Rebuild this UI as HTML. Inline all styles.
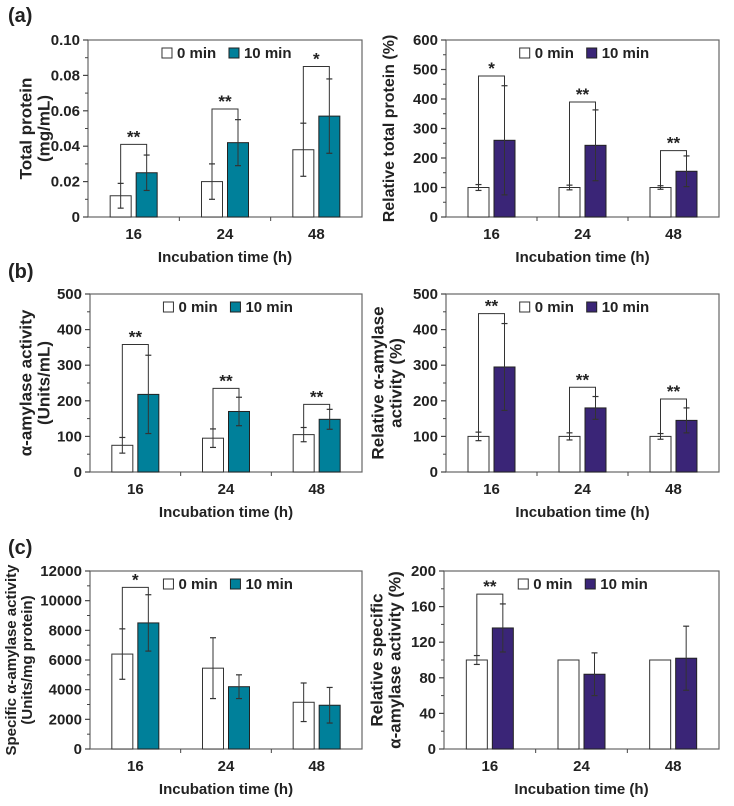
<!DOCTYPE html>
<html><head><meta charset="utf-8"><style>
body{margin:0;background:#fff;}
svg text{font-family:"Liberation Sans",Arial,sans-serif;font-weight:bold;fill:#222;}
</style></head><body>
<svg id="fig" width="734" height="801" viewBox="0 0 734 801" xmlns="http://www.w3.org/2000/svg"></svg>
<script>
const categories = ["16","24","48"];
// panel a-left
const aL_v0 = [0.012,0.020,0.038], aL_e0=[0.007,0.010,0.015];
const aL_v1 = [0.025,0.042,0.057], aL_e1=[0.010,0.013,0.021];
const aL_br = [0.041,0.061,0.085], aL_sig=["**","**","*"];
const aL_ticks = [0,0.02,0.04,0.06,0.08,0.10], aL_tl=["0","0.02","0.04","0.06","0.08","0.10"];
// panel a-right
const aR_v0=[100,100,100], aR_e0=[10,8,6];
const aR_v1=[260,243,155], aR_e1=[185,120,52];
const aR_br=[478,390,225], aR_sig=["*","**","**"];
const aR_ticks=[0,100,200,300,400,500,600];
// panel b-left
const bL_v0=[75,95,105], bL_e0=[22,26,20];
const bL_v1=[218,170,148], bL_e1=[110,40,28];
const bL_br=[358,235,190], bL_sig=["**","**","**"];
const bL_ticks=[0,100,200,300,400,500];
// panel b-right
const bR_v0=[100,100,100], bR_e0=[12,10,8];
const bR_v1=[295,180,145], bR_e1=[122,32,35];
const bR_br=[445,238,205], bR_sig=["**","**","**"];
const bR_ticks=[0,100,200,300,400,500];
// panel c-left
const cL_v0=[6400,5450,3150], cL_e0=[1700,2050,1300];
const cL_v1=[8500,4200,2950], cL_e1=[1900,800,1200];
const cL_br=[10900,null,null], cL_sig=["*","",""];
const cL_ticks=[0,2000,4000,6000,8000,10000,12000];
// panel c-right
const cR_v0=[100,100,100], cR_e0=[5,0,0];
const cR_v1=[136,84,102], cR_e1=[27,24,36];
const cR_br=[174,null,null], cR_sig=["**","",""];
const cR_ticks=[0,40,80,120,160,200];

const NS="http://www.w3.org/2000/svg";
const svg=document.getElementById('fig');
function mk(tag,attrs,parent){const e=document.createElementNS(NS,tag);for(const k in attrs)e.setAttribute(k,attrs[k]);(parent||svg).appendChild(e);return e;}

function panel(o){
  const g=mk('g',{});
  
  
  const L=o.x0,R=o.x1,T=o.y0,B=o.y1,max=o.ticks[o.ticks.length-1];
  const y=v=>B-(v/max)*(B-T);
  const band=(R-L)/3;
  const xc=i=>L+band*(i+0.5);
  const bw=21,gap=5;
  const fr=mk('rect',{x:L,y:T,width:R-L,height:B-T,fill:'none',stroke:'#666','stroke-width':1.2},g);
  
  
  o.ticks.forEach((t,i)=>{
    mk('line',{x1:L-5,x2:L,y1:y(t),y2:y(t),stroke:'#444','stroke-width':1.2},g);
    if(i<o.ticks.length-1){const m=(t+o.ticks[i+1])/2;mk('line',{x1:L-3,x2:L,y1:y(m),y2:y(m),stroke:'#444','stroke-width':1},g);}
    const tx=mk('text',{x:L-8,y:y(t)+5,'text-anchor':'end','font-size':15},g);
    tx.textContent=o.tl?o.tl[i]:String(t);
    
    
  });
  for(let i=1;i<3;i++)mk('line',{x1:L+band*i,x2:L+band*i,y1:B,y2:B+4,stroke:'#444','stroke-width':1},g);
  categories.forEach((c,i)=>{
    const tx=mk('text',{x:xc(i),y:B+22,'text-anchor':'middle','font-size':15},g);
    tx.textContent=c;
    
    
    const x0=xc(i)-gap/2-bw, x1=xc(i)+gap/2;
    const b0=mk('rect',{x:x0,y:y(o.v0[i]),width:bw,height:B-y(o.v0[i]),fill:'#fff',stroke:'#333','stroke-width':1},g);
    
    
    const b1=mk('rect',{x:x1,y:y(o.v1[i]),width:bw,height:B-y(o.v1[i]),fill:o.color,stroke:'#222','stroke-width':1},g);
    
    
    [[x0+bw/2,o.v0[i],o.e0[i]],[x1+bw/2,o.v1[i],o.e1[i]]].forEach(([cx,v,e])=>{
      if(!e)return;
      mk('line',{x1:cx,x2:cx,y1:y(v-e),y2:y(v+e),stroke:'#333','stroke-width':1},g);
      mk('line',{x1:cx-3,x2:cx+3,y1:y(v+e),y2:y(v+e),stroke:'#333','stroke-width':1.2},g);
      mk('line',{x1:cx-3,x2:cx+3,y1:y(v-e),y2:y(v-e),stroke:'#333','stroke-width':1.2},g);
    });
    if(o.br[i]!=null){
      const ax=x0+bw/2,bx=x1+bw/2;
      const p=mk('path',{d:`M${ax},${y(o.v0[i]+o.e0[i])}V${y(o.br[i])}H${bx}V${y(o.v1[i]+o.e1[i])}`,fill:'none',stroke:'#333','stroke-width':1},g);
      
      
      const s=mk('text',{x:(ax+bx)/2,y:y(o.br[i])-2,'text-anchor':'middle','font-size':17},g);
      s.textContent=o.sig[i];
      
      
    }
  });
  const lx=L+(R-L)*0.27, ly=T+18;
  mk('rect',{x:lx,y:ly-10,width:10,height:10,fill:'#fff',stroke:'#333','stroke-width':1},g);
  const l0=mk('text',{x:lx+15,y:ly,'font-size':15},g);l0.textContent='0 min';
  
  
  mk('rect',{x:lx+67,y:ly-10,width:10,height:10,fill:o.color,stroke:'#222','stroke-width':1},g);
  const l1=mk('text',{x:lx+82,y:ly,'font-size':15},g);l1.textContent='10 min';
  
  
  const xt=mk('text',{x:(L+R)/2,y:B+45,'text-anchor':'middle','font-size':15},g);
  xt.textContent='Incubation time (h)';
  
  
  const fs=o.tfs||17;
  o.ytitle.forEach((line,k)=>{
    const n=o.ytitle.length, cx=o.tx+(k-(n-1)/2)*(fs+1), cy=(T+B)/2;
    const t=mk('text',{x:cx,y:cy,'text-anchor':'middle','font-size':fs,transform:`rotate(-90 ${cx} ${cy})`,'dominant-baseline':'middle'},g);
    t.textContent=line;
    
    
  });
}
const teal='#00809a', navy='#3a2577';
panel({name:'panel-a-total-protein',x0:88,x1:362,y0:40,y1:217,ticks:aL_ticks,tl:aL_tl,v0:aL_v0,e0:aL_e0,v1:aL_v1,e1:aL_e1,br:aL_br,sig:aL_sig,color:teal,ytitle:['Total protein','(mg/mL)'],tx:36});
panel({name:'panel-a-relative-protein',x0:446,x1:719,y0:40,y1:217,ticks:aR_ticks,v0:aR_v0,e0:aR_e0,v1:aR_v1,e1:aR_e1,br:aR_br,sig:aR_sig,color:navy,ytitle:['Relative total protein (%)'],tx:390,tfs:16});
panel({name:'panel-b-amylase',x0:90,x1:362,y0:294,y1:472,ticks:bL_ticks,v0:bL_v0,e0:bL_e0,v1:bL_v1,e1:bL_e1,br:bL_br,sig:bL_sig,color:teal,ytitle:['α-amylase activity','(Units/mL)'],tx:36});
panel({name:'panel-b-relative-amylase',x0:446,x1:719,y0:294,y1:472,ticks:bR_ticks,v0:bR_v0,e0:bR_e0,v1:bR_v1,e1:bR_e1,br:bR_br,sig:bR_sig,color:navy,ytitle:['Relative α-amylase','activity (%)'],tx:388});
panel({name:'panel-c-specific',x0:90,x1:362,y0:571,y1:749,ticks:cL_ticks,v0:cL_v0,e0:cL_e0,v1:cL_v1,e1:cL_e1,br:cL_br,sig:cL_sig,color:teal,ytitle:['Specific α-amylase activity','(Units/mg protein)'],tx:20,tfs:15});
panel({name:'panel-c-relative-specific',x0:444,x1:719,y0:571,y1:749,ticks:cR_ticks,v0:cR_v0,e0:cR_e0,v1:cR_v1,e1:cR_e1,br:cR_br,sig:cR_sig,color:navy,ytitle:['Relative specific','α-amylase activity (%)'],tx:387});
[['(a)',8,22],['(b)',8,278],['(c)',8,554]].forEach(([s,x,yy])=>{
  const t=mk('text',{x:x,y:yy,'font-size':20});t.textContent=s;
  
  
});
</script>
</body></html>
